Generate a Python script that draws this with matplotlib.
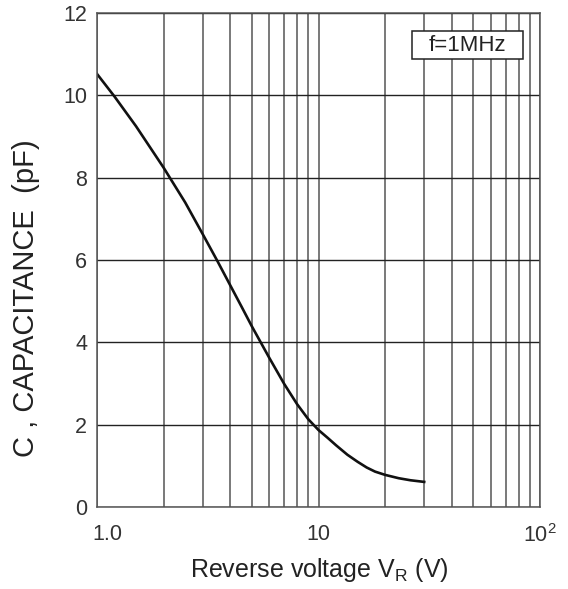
import numpy as np
import matplotlib.pyplot as plt
from matplotlib.ticker import FixedLocator, NullFormatter
from matplotlib.patches import Rectangle
import matplotlib.transforms as mtransforms

plt.rcParams['font.family'] = ['Liberation Sans', 'DejaVu Sans']
plt.rcParams['mathtext.fontset'] = 'custom'
plt.rcParams['mathtext.rm'] = 'Liberation Sans'
plt.rcParams['mathtext.it'] = 'Liberation Sans'

# capacitance vs reverse voltage
voltage = [1.0, 1.2, 1.5, 2.0, 2.5, 3.0, 3.5, 4.0, 4.5, 5.0, 6.0, 7.0, 8.0, 9.0, 10.0,
           11.0, 12.0, 13.5, 15.0, 16.5, 18.0, 20.0, 23.0, 26.0, 30.0]
capacitance = [10.52, 9.97, 9.25, 8.24, 7.40, 6.63, 5.97, 5.38, 4.86, 4.39, 3.62, 2.99, 2.50, 2.13, 1.87,
               1.68, 1.50, 1.27, 1.10, 0.96, 0.86, 0.78, 0.70, 0.65, 0.61]

x_ticks = [1, 10, 100]
x_labels = ['1.0', '10', '$10^2$']
y_ticks = [0, 2, 4, 6, 8, 10, 12]

fig = plt.figure(figsize=(5.68, 5.89), dpi=100)
ax = fig.add_axes([0.1708, 0.1392, 0.7799, 0.8387])

ax.plot(voltage, capacitance, color='#111111', linewidth=1.9, solid_joinstyle='round')

ax.set_xscale('log')
ax.set_xlim(1, 100)
ax.set_ylim(0, 12)
ax.xaxis.set_major_locator(FixedLocator(x_ticks))
ax.set_xticklabels(x_labels)
ax.xaxis.set_minor_locator(FixedLocator([v * d for d in (1, 10) for v in range(2, 10)]))
ax.xaxis.set_minor_formatter(NullFormatter())
ax.set_yticks(y_ticks)

ax.grid(True, which='major', axis='y', color='#222222', linewidth=1.0)
ax.grid(True, which='both', axis='x', color='#555555', linewidth=1.1)
ax.tick_params(which='both', length=0, labelsize=15.5, labelcolor='#333333')
ax.tick_params(axis='x', pad=12)
ax.tick_params(axis='y', pad=7)
for s in ax.spines.values():
    s.set_color('#555555')
    s.set_linewidth(1.1)

# nudge the "1.0" label right like in the original
lbl = ax.get_xticklabels()[0]
lbl.set_transform(lbl.get_transform() + mtransforms.ScaledTranslation(10 / 100, 0, fig.dpi_scale_trans))

ax.set_xlabel('Reverse voltage V$_\\mathrm{R}$ (V)', fontsize=18, color='#222222')
ax.xaxis.set_label_coords(0.503, -0.1)
ax.set_ylabel('C , CAPACITANCE  (pF)', fontsize=21, color='#222222')
ax.yaxis.set_label_coords(-0.128, 0.423)

# frequency note box
ax.add_patch(Rectangle((0.711, 0.907), 0.251, 0.057, transform=ax.transAxes,
                       facecolor='white', edgecolor='#222222', linewidth=1.1, zorder=3))
ax.text(0.8365, 0.935, 'f=1MHz', transform=ax.transAxes, ha='center', va='center',
        fontsize=16, color='#222222', zorder=4)

plt.savefig('out.png', dpi=100)
